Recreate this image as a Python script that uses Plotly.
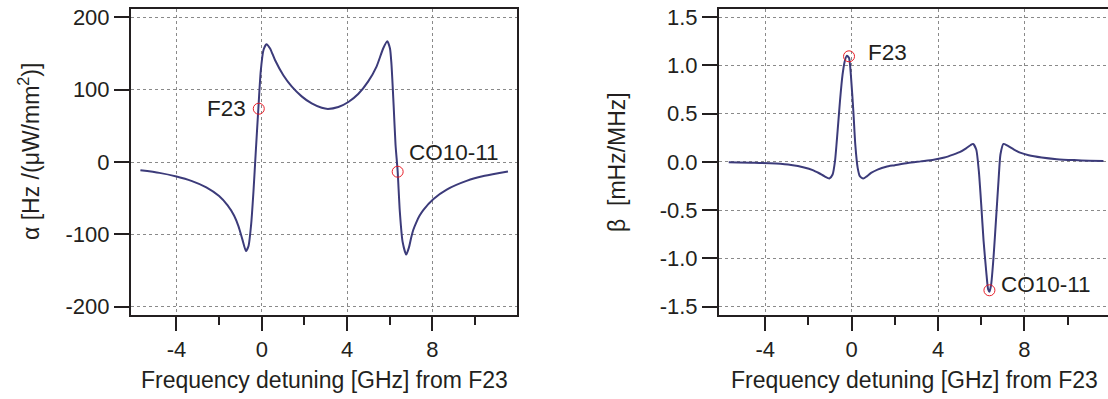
import plotly.graph_objects as go

# ---------------- data ----------------
freq_alpha = [-5.69, -4.8, -4.0, -3.3, -2.6, -2.0, -1.6, -1.3, -1.09, -0.9, -0.74, -0.62, -0.5,
              -0.39, -0.28, -0.16, -0.05, 0.08, 0.22, 0.39, 0.62, 1.01, 1.40, 1.87, 2.34, 2.81,
              3.1, 3.59, 4.06, 4.52, 4.99, 5.38, 5.69, 5.88, 6.01, 6.08, 6.18, 6.27, 6.37, 6.47,
              6.60, 6.77, 6.9, 7.0, 7.1, 7.25, 7.4, 7.58, 8.05, 8.67, 9.6, 10.45, 11.54]
alpha = [-11.5, -15, -20, -26, -35, -47, -60, -74, -89, -108, -123, -116, -87,
         -41, 15, 74, 125, 155, 163, 157, 141, 120, 104.6, 90.8, 81, 75,
         73.5, 76, 83, 94, 111.5, 132, 157, 167, 157, 135, 79, 24, -13, -68,
         -110, -128, -118, -105, -94, -83, -74, -66, -51, -38, -26, -19, -13]

freq_beta = [-5.69, -4.5, -3.5, -2.8, -2.2, -1.8, -1.5, -1.25, -1.03, -0.88, -0.77, -0.65, -0.54,
             -0.42, -0.32, -0.22, -0.12, -0.03, 0.08, 0.17, 0.28, 0.38, 0.54, 0.7, 0.9, 1.2,
             1.6, 2.0, 2.6, 3.2, 3.8, 4.3, 4.7, 5.0, 5.3, 5.5, 5.62, 5.77, 5.89, 6.0, 6.11,
             6.23, 6.32, 6.38, 6.46, 6.57, 6.69, 6.8, 6.89, 7.03, 7.2, 7.5, 7.8, 8.2, 8.8,
             9.5, 10.3, 11.0, 11.66]
beta = [-0.003, -0.008, -0.018, -0.033, -0.058, -0.085, -0.118, -0.15, -0.172, -0.131, 0.007,
        0.317, 0.628, 0.903, 1.04, 1.1, 1.076, 0.886, 0.524, 0.179, -0.062, -0.148, -0.172,
        -0.15, -0.115, -0.08, -0.05, -0.035, -0.012, 0.005, 0.022, 0.045, 0.075, 0.1, 0.14,
        0.172, 0.186, 0.128, -0.097, -0.44, -0.82, -1.13, -1.32, -1.345, -1.27, -0.99, -0.58,
        -0.2, 0.076, 0.186, 0.17, 0.13, 0.095, 0.068, 0.045, 0.028, 0.018, 0.012, 0.01]

marker_names = ["F23", "CO10-11"]
alpha_marker_x = [-0.14, 6.37]
alpha_marker_y = [73.7, -13.4]
beta_marker_x = [-0.12, 6.38]
beta_marker_y = [1.093, -1.33]

x_tick_vals = [-4, 0, 4, 8]
x_tick_text = ["-4", "0", "4", "8"]
x_minor_vals = [-2, 2, 6, 10]
alpha_tick_vals = [-200, -100, 0, 100, 200]
alpha_tick_text = ["-200", "-100", "0", "100", "200"]
beta_tick_vals = [-1.5, -1.0, -0.5, 0.0, 0.5, 1.0, 1.5]
beta_tick_text = ["-1.5", "-1.0", "-0.5", "0.0", "0.5", "1.0", "1.5"]

x_title = "Frequency detuning [GHz] from F23"
alpha_title = "\u03b1 [Hz /(\u03bcW/mm<sup>2</sup>)]"
beta_title = "\u03b2  [mHz/MHz]"

# ---------------- styling / layout ----------------
W, H = 1108, 399
TOP, BOTTOM = 9, 315
FONT = "Liberation Sans, Arial, Helvetica, sans-serif"
INK = "#231f20"
CURVE = "#3c3b7a"
RED = "#e8202a"

fig = go.Figure()
fig.add_trace(go.Scatter(x=freq_alpha, y=alpha, mode="lines",
                         line=dict(color=CURVE, width=2, shape="spline", smoothing=0.6),
                         xaxis="x", yaxis="y", showlegend=False, hoverinfo="skip"))
fig.add_trace(go.Scatter(x=alpha_marker_x, y=alpha_marker_y, mode="markers",
                         marker=dict(symbol="circle-open", size=11, color=RED, line=dict(width=1, color=RED)),
                         xaxis="x", yaxis="y", showlegend=False, hoverinfo="skip"))
fig.add_trace(go.Scatter(x=freq_beta, y=beta, mode="lines",
                         line=dict(color=CURVE, width=2, shape="spline", smoothing=0.6),
                         xaxis="x2", yaxis="y2", showlegend=False, hoverinfo="skip"))
fig.add_trace(go.Scatter(x=beta_marker_x, y=beta_marker_y, mode="markers",
                         marker=dict(symbol="circle-open", size=11, color=RED, line=dict(width=1, color=RED)),
                         xaxis="x2", yaxis="y2", showlegend=False, hoverinfo="skip"))

common_axis = dict(showline=True, linecolor=INK, linewidth=2, ticks="outside", tickcolor=INK,
                   tickwidth=2, showgrid=True, gridcolor="#8a8a8a", griddash="dot", gridwidth=1,
                   zeroline=False, tickfont=dict(family=FONT, size=22, color=INK), automargin=False)

xcommon = dict(common_axis, tickmode="array", tickvals=x_tick_vals, ticktext=x_tick_text, ticklen=14,
               mirror=True,
               minor=dict(tickmode="array", tickvals=x_minor_vals, ticks="outside", ticklen=8,
                          tickwidth=2, tickcolor=INK, showgrid=False))


def fx(px):
    return px / W


def fy(px):
    return (BOTTOM - px) / (BOTTOM - TOP)


fig.update_layout(
    width=W, height=H, template="none",
    paper_bgcolor="white", plot_bgcolor="white",
    margin=dict(l=0, r=0, t=TOP, b=H - BOTTOM),
    font=dict(family=FONT, color=INK, size=22),
    xaxis=dict(xcommon, domain=[fx(131), fx(516.7)], range=[-6.13, 11.95], anchor="y"),
    yaxis=dict(common_axis, domain=[0, 1], range=[-211.5, 211.6], tickmode="array",
               tickvals=alpha_tick_vals, ticktext=alpha_tick_text, ticklen=15, mirror=True, anchor="x"),
    xaxis2=dict(xcommon, domain=[fx(719), 1.0], range=[-6.14, 11.87], anchor="y2"),
    yaxis2=dict(common_axis, domain=[0, 1], range=[-1.586, 1.583], tickmode="array",
                tickvals=beta_tick_vals, ticktext=beta_tick_text, ticklen=15, mirror=False, anchor="x2"),
)

label_font = dict(family=FONT, size=22.5, color=INK)
title_font = dict(family=FONT, size=23, color=INK)
annotations = [
    dict(x=alpha_marker_x[0], y=alpha_marker_y[0], xref="x", yref="y", text=marker_names[0],
         showarrow=False, xanchor="right", yanchor="middle", xshift=-11, yshift=0, font=label_font),
    dict(x=alpha_marker_x[1], y=alpha_marker_y[1], xref="x", yref="y", text=marker_names[1],
         showarrow=False, xanchor="left", yanchor="middle", xshift=9, yshift=19, font=label_font),
    dict(x=beta_marker_x[0], y=beta_marker_y[0], xref="x2", yref="y2", text=marker_names[0],
         showarrow=False, xanchor="left", yanchor="middle", xshift=17, yshift=4, font=label_font),
    dict(x=beta_marker_x[1], y=beta_marker_y[1], xref="x2", yref="y2", text=marker_names[1],
         showarrow=False, xanchor="left", yanchor="middle", xshift=10, yshift=6, font=label_font),
    # axis titles
    dict(x=fx(324.7), y=fy(380), xref="paper", yref="paper", text=x_title, showarrow=False,
         xanchor="center", yanchor="middle", font=title_font),
    dict(x=fx(914.5), y=fy(380), xref="paper", yref="paper", text=x_title, showarrow=False,
         xanchor="center", yanchor="middle", font=title_font),
    dict(x=fx(29), y=fy(152), xref="paper", yref="paper", text=alpha_title, showarrow=False,
         textangle=-90, xanchor="center", yanchor="middle", font=title_font),
    dict(x=fx(616.5), y=fy(162.5), xref="paper", yref="paper", text=beta_title, showarrow=False,
         textangle=-90, xanchor="center", yanchor="middle", font=title_font),
]
fig.update_layout(annotations=annotations)

# the page's default 8px body margin would shift the figure; remove it so the
# figure fills the 1108x399 window exactly
fig.write_html("out.html", config={"displayModeBar": False},
               post_script="document.body.style.margin='0px';")
